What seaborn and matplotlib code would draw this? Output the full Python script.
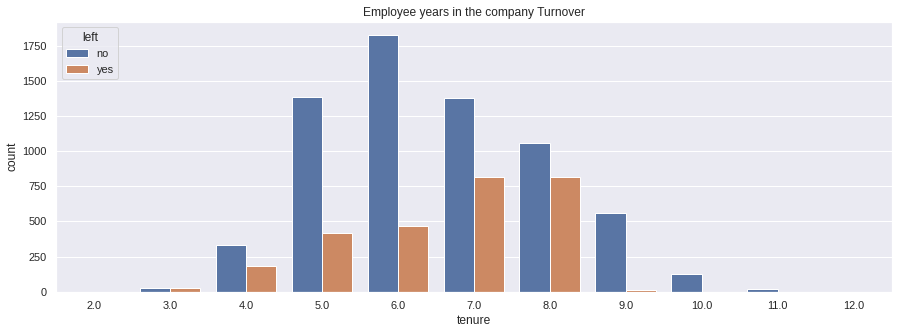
import numpy as np
import pandas as pd
import matplotlib
matplotlib.use("Agg")
import matplotlib.pyplot as plt
import seaborn as sns

# Employee counts by tenure, split by whether they left
tenure = ["2.0", "3.0", "4.0", "5.0", "6.0", "7.0", "8.0", "9.0", "10.0", "11.0", "12.0"]
stayed = [1, 26, 329, 1383, 1830, 1376, 1056, 558, 123, 18, 1]
left_co = [0, 26, 180, 421, 471, 818, 818, 10, 0, 0, 0]

df = pd.DataFrame({
    "tenure": tenure * 2,
    "count": stayed + left_co,
    "left": ["no"] * len(tenure) + ["yes"] * len(tenure),
})

sns.set_theme(style="darkgrid")
plt.rcParams["font.family"] = ["Liberation Sans", "DejaVu Sans"]

fig = plt.figure(figsize=(899 / 72, 333 / 72), dpi=72)
ax = fig.add_axes([0.0623, 0.124, 0.9297, 0.811])

sns.barplot(data=df, x="tenure", y="count", hue="left", order=tenure,
            hue_order=["no", "yes"], ax=ax, edgecolor="white", linewidth=1)

ax.set_title("Employee years in the company Turnover")
ax.set_xlabel("tenure")
ax.set_ylabel("count")
ax.legend(title="left", loc="upper left")

fig.savefig("out.png", dpi=72)
